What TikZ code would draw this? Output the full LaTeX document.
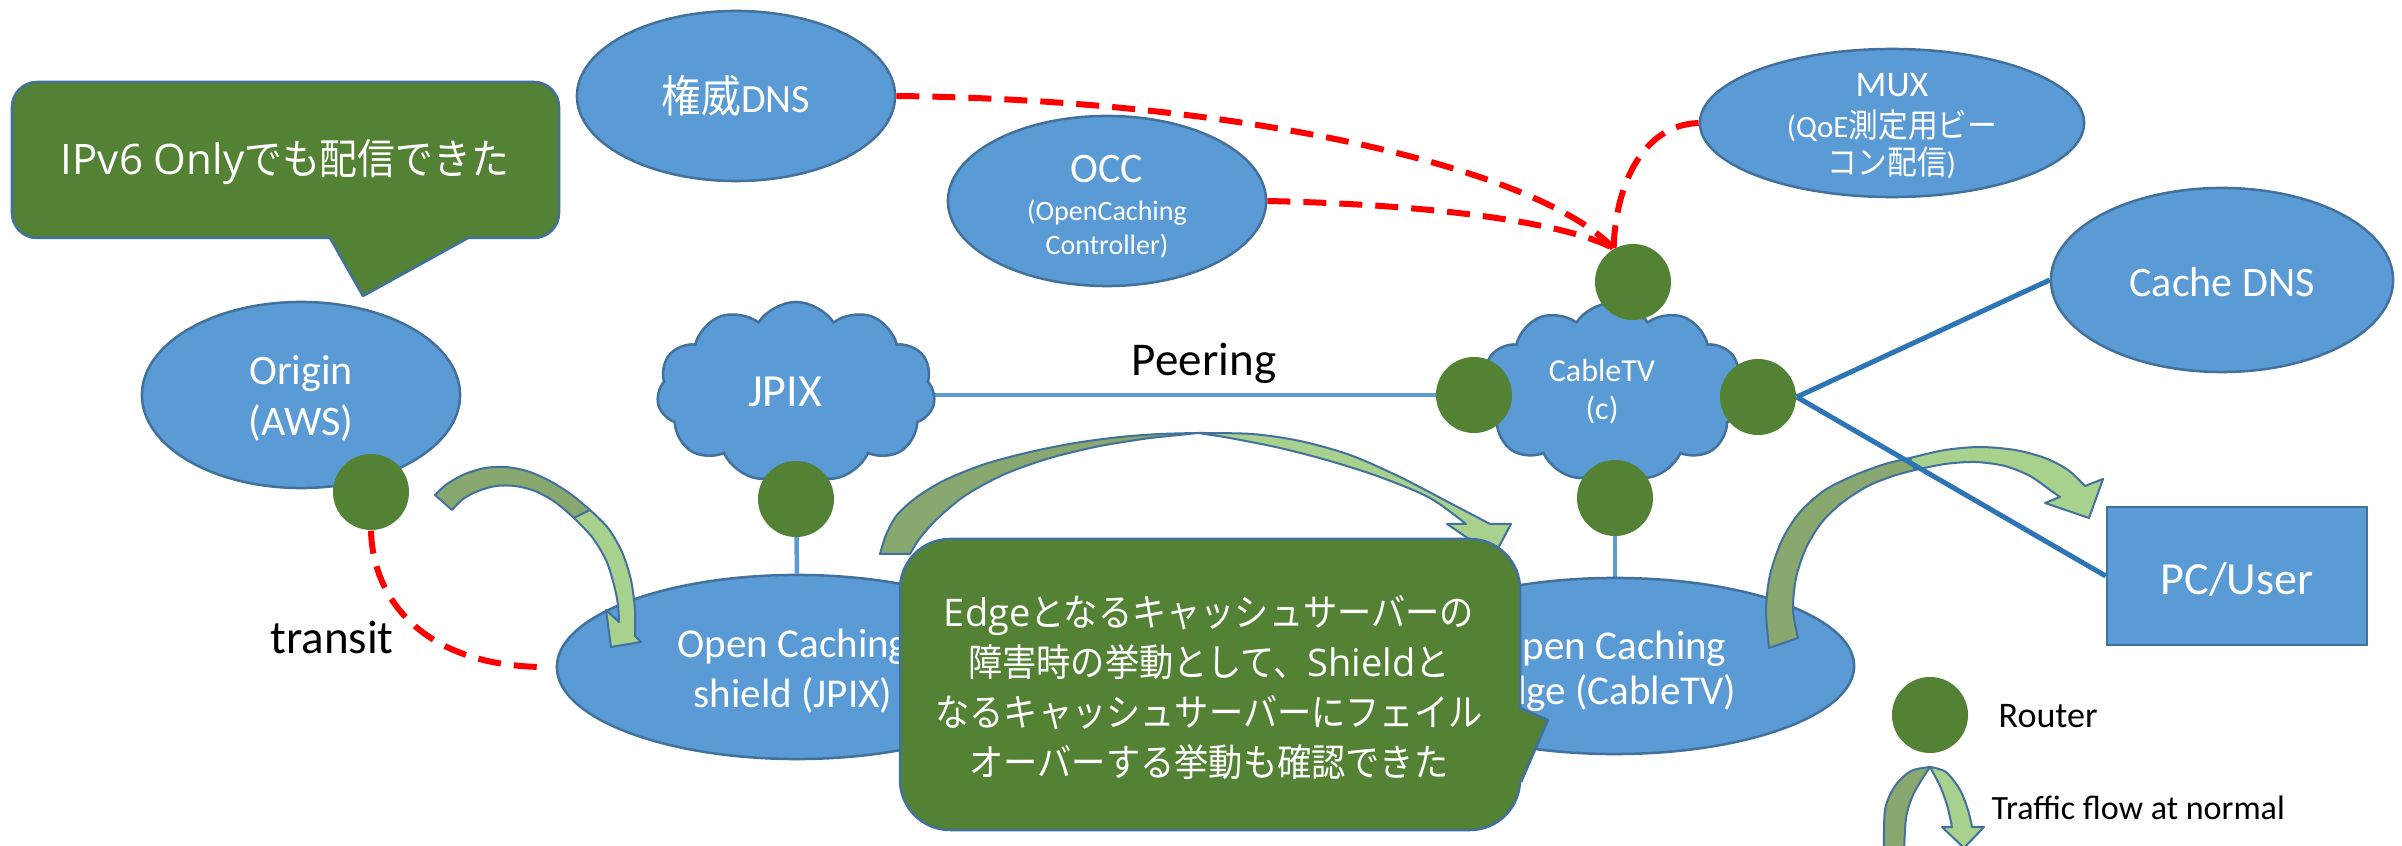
\documentclass[tikz,border=0pt]{standalone}
\usepackage{fontspec}
\setmainfont{Carlito}
\newfontfamily\jp[FakeStretch=0.9]{Noto Sans CJK JP}
\newfontfamily\os{Open Sans}
\usetikzlibrary{shapes.geometric,shapes.symbols}
\pgfdeclarelayer{bg}
\pgfdeclarelayer{lines}
\pgfsetlayers{bg,lines,main}
\definecolor{bfill}{HTML}{5B9BD5}
\definecolor{bline}{HTML}{41719C}
\definecolor{rgreen}{HTML}{548235}
\definecolor{lgreen}{HTML}{A9D18E}
\definecolor{dgreen}{HTML}{88A870}
\definecolor{dblue}{HTML}{2E75B6}
\newcommand\fpx[2]{\fontsize{\fpeval{#1*0.28453}pt}{\fpeval{#2*0.28453}pt}\selectfont}
\tikzset{
  bubble/.style={ellipse, draw=bline, fill=bfill, line width=0.025cm, inner sep=0pt},
  router/.style={circle, fill=rgreen, inner sep=0pt, minimum size=0.76cm},
  wtext/.style={text=white, align=center, inner sep=0pt},
  btext/.style={text=black, inner sep=0pt},
  reddash/.style={draw=red, line width=0.06cm, dash pattern=on 0.23cm off 0.13cm},
  stem/.style={draw=bfill, line width=0.045cm},
  dline/.style={draw=dblue, line width=0.05cm},
  arrowdark/.style={fill=dgreen, draw=bline, line width=0.02cm, line join=round},
  arrowlight/.style={fill=lgreen, draw=bline, line width=0.02cm, line join=round},
  callout/.style={fill=rgreen, draw=bline, line width=0.025cm},
  netcloud/.style={cloud, cloud puffs=11, cloud puff arc=115, aspect=1.5, draw=bline, fill=bfill, line width=0.025cm, inner sep=0pt},
}
\begin{document}
\begin{tikzpicture}[x=0.01cm, y=-0.01cm]
\begin{pgfonlayer}{bg}
\fill[white] (0,0) rectangle (2402,846);
\end{pgfonlayer}
\useasboundingbox (0,0) rectangle (2402,846);

% ellipses and boxes
\node[bubble, minimum width=3.18cm, minimum height=1.70cm] (dns) at (736,96) {};
\node[bubble, minimum width=3.18cm, minimum height=1.70cm] (occ) at (1107,201) {};
\node[bubble, minimum width=3.84cm, minimum height=1.48cm] (mux) at (1892,123) {};
\node[bubble, minimum width=3.18cm, minimum height=1.86cm] (origin) at (301,395) {};
\node[bubble, minimum width=3.42cm, minimum height=1.84cm] (cdns) at (2222,280) {};
\node[bubble, minimum width=4.80cm, minimum height=1.84cm] (shield) at (797,667) {};
\node[bubble, minimum width=4.78cm, minimum height=1.76cm] (edge) at (1615,666) {};
\node[rectangle, draw=bline, fill=bfill, line width=0.025cm, minimum width=2.60cm, minimum height=1.38cm, inner sep=0pt] (pc) at (2237,576) {};
\node[netcloud, minimum width=2.78cm, minimum height=1.80cm] (jpix) at (796,392) {};
\node[netcloud, minimum width=2.65cm, minimum height=1.78cm] (catv) at (1612,392) {};

% routers
\node[router] (rO) at (371,492) {};
\node[router] (rJ) at (796,499) {};
\node[router] (rT) at (1633,282) {};
\node[router] (rL) at (1474,395) {};
\node[router] (rR) at (1758,397) {};
\node[router] (rB) at (1615,498) {};
\node[router] (rLeg) at (1930,715) {};

% connectors below the shapes
\begin{pgfonlayer}{lines}
\draw[stem] (jpix.east |- rL.center) -- (rL.center);
\draw[stem] (rJ.center) -- (shield.north);
\draw[stem] (rB.center) -- (edge.north);
\draw[reddash] (dns.east) .. controls (1250,100) and (1540,170) .. (rT.120);
\draw[reddash] (occ.east) .. controls (1450,205) and (1570,225) .. (rT.120);
\draw[reddash] (mux.west) .. controls (1640,125) and (1615,190) .. (rT.120);
\draw[reddash, shorten >=0.1cm] (rO.south) .. controls (373,605) and (430,667) .. (shield.west);
\end{pgfonlayer}

% text inside shapes
\node[wtext] (dnsT) at (736,96) {{\jp\fpx{44}{50}権威}{\fpx{40}{48}DNS}};
\node[wtext, font=\fpx{28}{34}] (occT) at (1107,207) {{\fpx{42}{44}OCC}\\[0.04cm](OpenCaching\\Controller)};
\node[wtext, font=\fpx{31}{37}] (muxT) at (1892,126) {{\fpx{36}{43}MUX}\\[0.04cm](QoE{\jp\fpx{33}{37}測定用ビー}\\{\jp\fpx{33}{37}コン配信})};
\node[wtext, font=\fpx{42}{51}] (originT) at (301,398) {Origin\\(AWS)};
\node[wtext, font=\fpx{42}{48}] (cdnsT) at (2222,282) {Cache DNS};
\node[wtext, font=\fpx{46}{52}] (pcT) at (2237,580) {PC/User};
\node[wtext, font=\fpx{46}{52}] (jpixT) at (785,392) {JPIX};
\node[wtext, font=\fpx{32}{38}] (catvT) at (1602,392) {CableTV\\(c)};
\node[wtext, font=\fpx{41}{50}] (shieldT) at (793,671) {Open Caching\\shield (JPIX)};
\node[wtext, font=\fpx{41}{45}] (edgeT) at (1611,671) {Open Caching\\Edge (CableTV)};
\node[btext, font=\fpx{47}{52}] (peerT) at (1204,363) {Peering};
\node[btext, font=\fpx{47}{52}] (transitT) at (332,637) {transit};

% arrow A: origin -> shield
\filldraw[arrowdark] plot[smooth] coordinates {(435,495) (447,484) (465,474) (485,468) (505,467) (527,471) (550,481) (572,495) (590,510)}
  -- plot[smooth] coordinates {(574,518) (555,502) (535,491) (515,486) (496,486) (478,491) (463,499) (452,510)} -- cycle;
\filldraw[arrowlight] plot[smooth] coordinates {(590,510) (608,528) (622,552) (631,580) (635,610) (635,636)}
  -- (641,642) -- (611,647) -- (606,610)
  -- plot[smooth] coordinates {(619,622) (618,605) (614,585) (606,560) (592,537) (574,518)} -- cycle;

% arrow B: shield -> edge (failover)
\filldraw[arrowdark] plot[smooth] coordinates {(880,554) (886,535) (897,515) (917,497) (945,480) (985,464) (1030,452) (1075,443) (1120,437) (1160,434) (1198,433)}
  -- plot[smooth] coordinates {(1150,438) (1100,446) (1050,458) (1005,474) (966,495) (938,518) (920,538) (910,554)} -- cycle;
\filldraw[arrowlight] plot[smooth] coordinates {(1198,433) (1252,434) (1300,441) (1350,455) (1400,477) (1450,503) (1490,524)}
  -- (1511,524) -- (1494,556) -- (1447,524)
  -- plot[smooth] coordinates {(1466,524) (1430,498) (1380,477) (1330,461) (1280,448) (1230,438) (1198,433)} -- cycle;

% arrow C: edge -> PC
\filldraw[arrowdark] plot[smooth] coordinates {(1769,648) (1766,610) (1770,575) (1782,540) (1800,512) (1825,490) (1855,475) (1885,464) (1910,458)}
  -- plot[smooth] coordinates {(1915,470) (1893,476) (1868,486) (1843,502) (1822,522) (1806,548) (1796,578) (1793,610) (1798,638)} -- cycle;
\filldraw[arrowlight] plot[smooth] coordinates {(1910,458) (1945,450) (1980,447) (2015,450) (2045,458) (2068,470) (2085,486)}
  -- (2103,479) -- (2089,518) -- (2045,503)
  -- plot[smooth] coordinates {(2060,497) (2050,490) (2030,476) (2005,466) (1975,462) (1945,464) (1915,470)} -- cycle;

% legend arrow
\filldraw[arrowdark] plot[smooth] coordinates {(1884,856) (1885,810) (1895,786) (1911,771) (1930,767)}
  -- plot[smooth] coordinates {(1924,776) (1913,795) (1906,818) (1904,856)} -- cycle;
\filldraw[arrowlight] plot[smooth] coordinates {(1930,767) (1946,772) (1960,790) (1968,810) (1972,827)}
  -- (1984,827) -- (1964,848) -- (1942,827)
  -- plot[smooth] coordinates {(1952,827) (1947,805) (1940,786) (1930,767)} -- cycle;

% lines from CableTV router
\draw[dline] (rR.east) -- (cdns.west);
\draw[dline] (rR.east) -- (pc.west);

% callout 1
\filldraw[callout, rounded corners=0.25cm] (12,82) rectangle (559,238);
\fill[rgreen] (330,238) -- (330,228) -- (468,228) -- (468,238) -- (363,296) -- cycle;
\draw[draw=bline, line width=0.025cm, line join=round] (330,238) -- (363,296) -- (468,238);
\node[wtext, font={\os\fpx{42}{50}}] (c1T) at (285,162) {IPv6 Only{\jp でも配信できた}};

% callout 2
\filldraw[callout, rounded corners=0.5cm] (900,539) rectangle (1520,830);
\fill[rgreen] (1520,708) -- (1510,708) -- (1510,782) -- (1521,782) -- (1548,720) -- cycle;
\draw[draw=bline, line width=0.025cm, line join=round] (1520,708) -- (1548,720) -- (1521,782);
\node[wtext, font={\os\fpx{38}{50}}] (c2T) at (1209,688) {Edge{\jp となるキャッシュサーバーの}\\{\jp 障害時の挙動として、}Shield{\jp と}\\{\jp なるキャッシュサーバーにフェイル}\\{\jp オーバーする挙動も確認できた}};

% legend
\node[btext, anchor=west, font=\fpx{36}{40}] (legR) at (1998,716) {Router};
\node[btext, anchor=west, font=\fpx{34}{40}] (legT) at (1991,808) {Traffic flow at normal};
\end{tikzpicture}
\end{document}
